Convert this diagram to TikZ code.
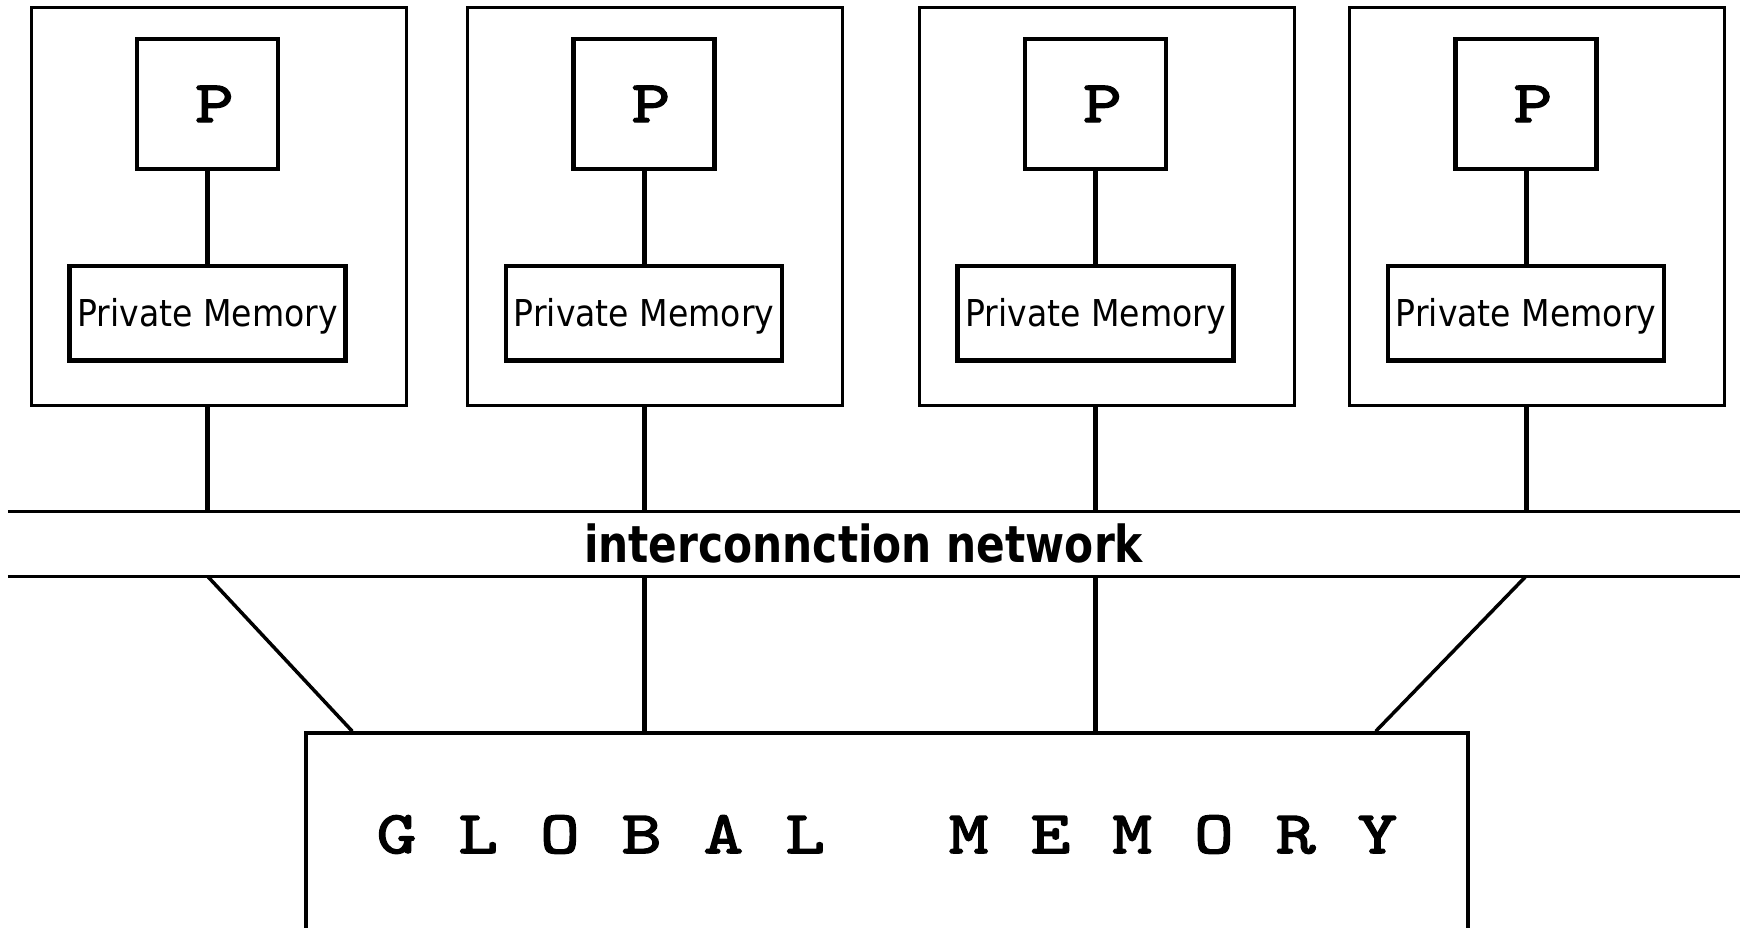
\documentclass[tikz,border=0pt]{standalone}
\usepackage{fontspec}
\newfontfamily\pmfont[FakeStretch=0.894]{DejaVu Sans}
\newfontfamily\netfont[FakeStretch=0.83]{DejaVu Sans}
\newfontfamily\monofnt[FakeStretch=1.25,FakeBold=2.5]{lmmono10-regular.otf}
\newcommand\glet[1]{\makebox[81.75pt]{#1}}
\begin{document}
\begin{tikzpicture}[x=1pt,y=-1pt,
  outerbox/.style={draw,line width=3pt,minimum width=375pt,minimum height=398pt,inner sep=0pt},
  pbox/.style={draw,line width=4.5pt,minimum width=141pt,minimum height=130pt,inner sep=0pt,
    font=\monofnt\fontsize{59}{60}\selectfont,text height=36pt,text depth=0pt},
  pmbox/.style={draw,line width=4.5pt,minimum width=276pt,minimum height=94.5pt,inner sep=0pt,
    font=\pmfont\fontsize{37}{40}\selectfont,text height=30pt,text depth=2.6pt},
  conn/.style={line width=5pt},
  netline/.style={line width=3pt},
  diag/.style={line width=3.5pt},
  netband/.style={minimum width=1732pt,minimum height=64pt,inner sep=0pt,
    font=\netfont\bfseries\fontsize{51}{55}\selectfont,text height=40pt,text depth=4pt},
  gmbox/.style={draw,line width=3.5pt,minimum width=1162pt,minimum height=203pt,inner sep=0pt,
    font=\monofnt\fontsize{60.5}{62}\selectfont,text height=37pt,text depth=0pt}
]
\useasboundingbox (0,0) rectangle (1742,927);
\clip (0,0) rectangle (1742,927);
\foreach \i/\c in {1/207.5,2/644,3/1095.5,4/1526} {
  \node[outerbox] (O\i) at (\c+11,206.5) {};
  \node[pbox] (P\i) at (\c,104) {\hspace*{14pt}P};
  \node[pmbox] (M\i) at (\c,313.25) {Private Memory};
  \draw[conn] (P\i) -- (M\i);
}
\node[netband] (net) at (874,544) {\hspace*{-21pt}interconnction network};
\draw[netline] (net.north west) -- (net.north east);
\draw[netline] (net.south west) -- (net.south east);
\foreach \i in {1,...,4} {
  \draw[conn] (P\i |- O\i.south) -- (P\i |- net.north);
}
\node[gmbox] (GM) at (887,834.5) {\glet{G}\glet{L}\glet{O}\glet{B}\glet{A}\glet{L}\glet{ }\glet{M}\glet{E}\glet{M}\glet{O}\glet{R}\glet{Y}};
\draw[diag] (P1 |- net.south) -- ([xshift=48pt]GM.north west);
\draw[conn] (P2 |- net.south) -- (P2 |- GM.north);
\draw[conn] (P3 |- net.south) -- (P3 |- GM.north);
\draw[diag] (P4 |- net.south) -- ([xshift=-94pt]GM.north east);
\end{tikzpicture}
\end{document}
